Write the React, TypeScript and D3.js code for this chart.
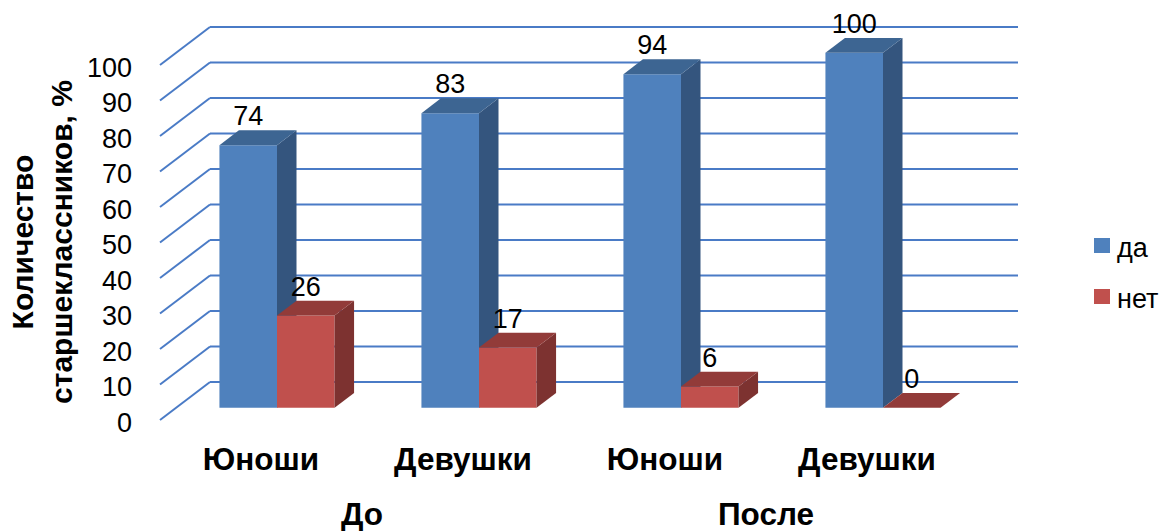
import * as d3 from "d3";
import React, {useEffect, useRef} from "react";

const categories = ['Юноши', 'Девушки', 'Юноши', 'Девушки'];
const periods = ['До', 'После'];
const seriesNames = ['да', 'нет'];
const daValues = [74, 83, 94, 100];
const netValues = [26, 17, 6, 0];
const yTicks = [0, 10, 20, 30, 40, 50, 60, 70, 80, 90, 100];
const axisTitle = ['Количество', 'старшеклассников, %'];

const faceColors: {[k: string]: {front: string, side: string, top: string}} = {
  'да': {front: '#4f81bd', side: '#34557e', top: '#3d6592'},
  'нет': {front: '#c0504d', side: '#7d3230', top: '#923b39'},
};

const App: React.FC = () => {
  const ref = useRef<SVGSVGElement | null>(null);

  useEffect(() => {
    const svg = d3.select(ref.current);
    svg.selectAll('*').remove();
    const width = 1165;
    const height = 531;
    svg.attr('width', width).attr('height', height);

    // front plane of the 3D box
    const left = 160;
    const right = 968;
    const wallDepth = 50; // x offset of back wall
    const slope = 0.76; // y offset per x offset
    const barFront = 16; // depth of bar front face
    const barBack = 35.5; // depth of bar back face

    const yScale = d3.scaleLinear().domain([0, 100]).range([420, 65]);
    const proj = (x: number, v: number, depth: number): [number, number] =>
      [x + depth, yScale(v) - depth * slope];

    const xGroup = d3.scaleBand<number>()
      .domain(d3.range(categories.length))
      .range([left, right])
      .paddingInner(0.43)
      .paddingOuter(0.215);
    const xSeries = d3.scaleBand<string>()
      .domain(seriesNames)
      .range([0, xGroup.bandwidth()]);

    // no serif fonts in the sandbox, Liberation Sans is the closest fit
    const font = "'Liberation Sans', Arial, sans-serif";
    const gridColor = '#4a7bc6';

    // back wall grid + left side lines
    const grid = svg.append('g');
    yTicks.forEach((t) => {
      const [bx0, by] = proj(left, t, wallDepth);
      const [bx1] = proj(right, t, wallDepth);
      grid.append('line')
        .attr('x1', bx0).attr('y1', by).attr('x2', bx1).attr('y2', by)
        .attr('stroke', gridColor).attr('stroke-width', 2);
      grid.append('line')
        .attr('x1', left).attr('y1', yScale(t)).attr('x2', bx0).attr('y2', by)
        .attr('stroke', gridColor).attr('stroke-width', 2);
    });

    // tick labels
    svg.append('g')
      .selectAll('text')
      .data(yTicks)
      .enter()
      .append('text')
      .attr('x', 132)
      .attr('y', (d) => yScale(d) + 11.5)
      .attr('text-anchor', 'end')
      .attr('font-family', font)
      .attr('font-size', 27)
      .text((d) => d);

    const bars: {i: number, s: string, v: number}[] = [];
    categories.forEach((_, i) => {
      bars.push({i, s: 'да', v: daValues[i]});
      bars.push({i, s: 'нет', v: netValues[i]});
    });

    const pts = (p: [number, number][]) => p.map((q) => q.join(',')).join(' ');

    const barG = svg.append('g');
    bars.forEach((b) => {
      const x0 = (xGroup(b.i) || 0) + (xSeries(b.s) || 0);
      const x1 = x0 + xSeries.bandwidth();
      const c = faceColors[b.s];
      const fbl = proj(x0, 0, barFront);
      const fbr = proj(x1, 0, barFront);
      const ftl = proj(x0, b.v, barFront);
      const ftr = proj(x1, b.v, barFront);
      const bbr = proj(x1, 0, barBack);
      const btl = proj(x0, b.v, barBack);
      const btr = proj(x1, b.v, barBack);
      if (b.v > 0) {
        barG.append('polygon')
          .attr('points', pts([fbl, fbr, ftr, ftl]))
          .attr('fill', c.front);
        barG.append('polygon')
          .attr('points', pts([fbr, bbr, btr, ftr]))
          .attr('fill', c.side);
      }
      barG.append('polygon')
        .attr('points', pts([ftl, ftr, btr, btl]))
        .attr('fill', c.top);

      // value label
      barG.append('text')
        .attr('x', (fbl[0] + fbr[0]) / 2)
        .attr('y', btl[1] - 5)
        .attr('text-anchor', 'middle')
        .attr('font-family', font)
        .attr('font-size', 27)
        .text(b.v);
    });

    // category labels
    svg.append('g')
      .selectAll('text')
      .data(categories)
      .enter()
      .append('text')
      .attr('x', (_, i) => (xGroup(i) || 0) + xGroup.bandwidth() / 2)
      .attr('y', 470)
      .attr('text-anchor', 'middle')
      .attr('font-family', font)
      .attr('font-size', 31.5)
      .attr('font-weight', 'bold')
      .text((d) => d);

    // period labels
    svg.append('g')
      .selectAll('text')
      .data(periods)
      .enter()
      .append('text')
      .attr('x', (_, i) => {
        const a = (xGroup(i * 2) || 0) + xGroup.bandwidth() / 2;
        const b = (xGroup(i * 2 + 1) || 0) + xGroup.bandwidth() / 2;
        return (a + b) / 2;
      })
      .attr('y', 525)
      .attr('text-anchor', 'middle')
      .attr('font-family', font)
      .attr('font-size', 31.5)
      .attr('font-weight', 'bold')
      .text((d) => d);

    // y axis title
    const title = svg.append('g')
      .attr('transform', 'translate(0, 242) rotate(-90)');
    axisTitle.forEach((line, i) => {
      title.append('text')
        .attr('x', 0)
        .attr('y', 33 + i * 39)
        .attr('text-anchor', 'middle')
        .attr('font-family', font)
        .attr('font-size', 30)
        .attr('font-weight', 'bold')
        .text(line);
    });

    // legend
    const legend = svg.append('g');
    seriesNames.forEach((s, i) => {
      const y = 238 + i * 51;
      legend.append('rect')
        .attr('x', 1094).attr('y', y)
        .attr('width', 16).attr('height', 15)
        .attr('fill', faceColors[s].front);
      legend.append('text')
        .attr('x', 1117)
        .attr('y', y + 19)
        .attr('font-family', font)
        .attr('font-size', 27)
        .text(s);
    });

    return () => {
      svg.selectAll('*').remove();
    };
  }, []);

  return <svg ref={ref} style={{position: 'absolute', left: 0, top: 0}}/>;
};

export default App;
